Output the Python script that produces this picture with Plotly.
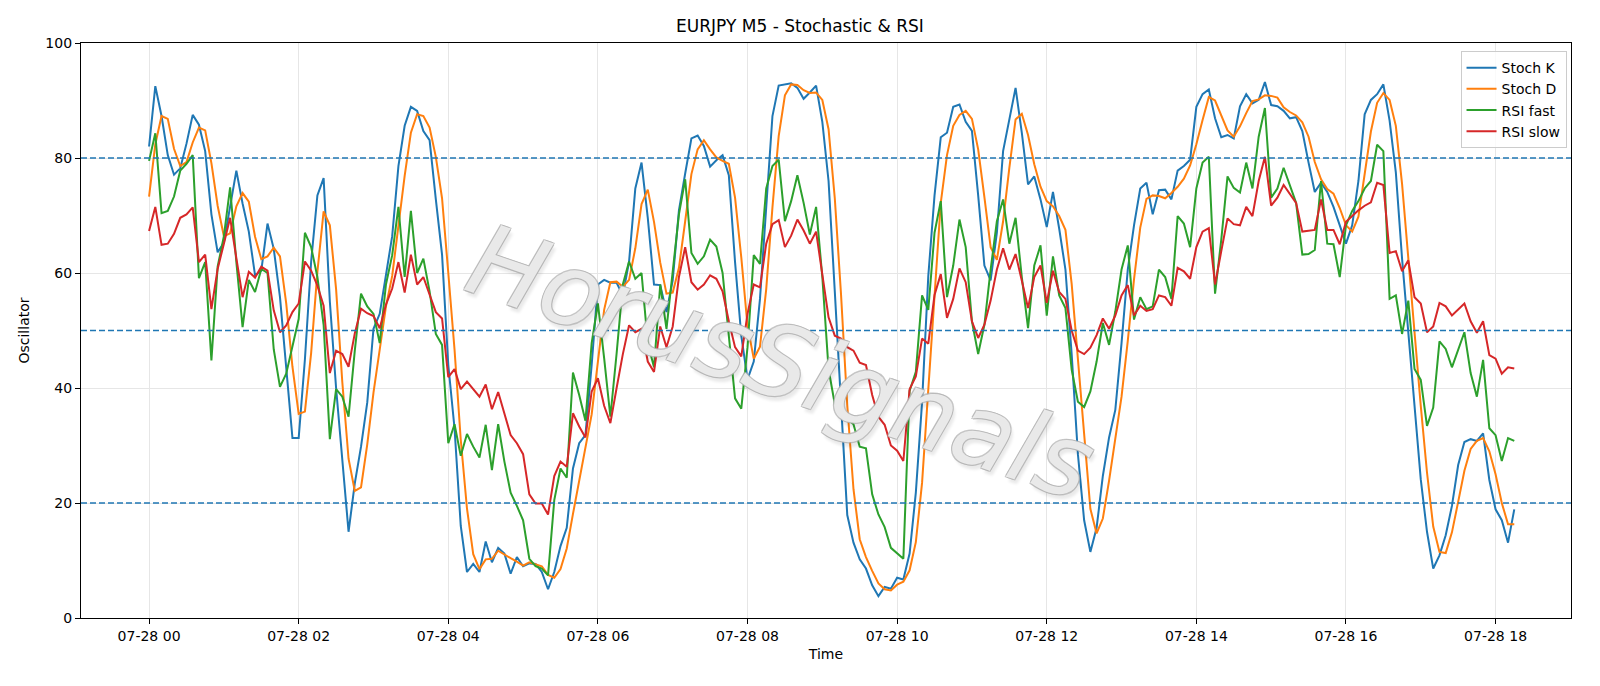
import pandas as pd
import plotly.graph_objects as go

stoch_k = [82.0, 92.5, 87.3, 80.5, 77.1, 78.2, 82.5, 87.5, 85.8, 81.2, 70.2, 63.6, 65.3, 71.8, 77.8, 72.1, 67.2, 59.6, 60.4, 68.6,
           64.2, 55.8, 44.0, 31.3, 31.3, 45.0, 62.0, 73.5, 76.5, 55.0, 40.0, 28.0, 15.0, 23.4, 29.8, 37.5, 50.3, 52.9, 59.3, 66.4,
           78.6, 85.6, 88.9, 88.2, 84.7, 83.1, 72.8, 63.2, 44.0, 33.0, 16.0, 8.0, 9.4, 8.0, 13.3, 9.7, 12.2, 11.2, 7.7, 10.6,
           9.0, 9.5, 9.4, 8.0, 5.0, 8.0, 12.5, 15.7, 26.0, 30.4, 31.8, 44.0, 58.0, 58.8, 58.3, 58.3, 56.1, 62.0, 74.7, 79.2,
           69.6, 58.0, 57.9, 53.2, 58.7, 70.9, 77.3, 83.4, 83.9, 82.1, 78.5, 79.6, 80.5, 77.0, 61.9, 49.1, 41.5, 44.6, 55.5, 71.5,
           87.3, 92.6, 92.8, 93.0, 92.2, 90.3, 91.4, 92.6, 86.3, 76.0, 56.8, 36.2, 17.9, 13.1, 10.2, 8.6, 5.7, 3.8, 5.4, 5.1,
           7.0, 6.7, 11.2, 21.8, 37.5, 59.5, 73.5, 83.6, 84.4, 88.9, 89.3, 86.3, 84.7, 73.5, 61.3, 58.7, 67.0, 81.2, 86.6, 92.2,
           84.4, 75.4, 76.8, 72.8, 68.0, 74.1, 67.7, 60.6, 45.9, 28.5, 17.0, 11.5, 15.7, 24.7, 31.4, 36.2, 47.8, 60.6, 68.3, 74.7,
           75.7, 70.2, 74.4, 74.5, 72.8, 77.8, 78.6, 79.7, 88.9, 91.1, 91.9, 86.9, 83.6, 84.0, 83.4, 89.0, 91.1, 89.5, 90.1, 93.2,
           89.2, 89.0, 88.2, 86.9, 87.1, 84.7, 79.2, 74.1, 75.7, 74.1, 71.5, 68.3, 65.1, 68.3, 76.0, 87.6, 90.1, 91.1, 92.8, 86.5,
           77.5, 62.5, 49.7, 36.9, 24.1, 15.0, 8.6, 10.9, 14.4, 19.5, 26.6, 30.6, 31.1, 30.8, 32.1, 24.0, 18.9, 17.0, 13.1, 18.9]

stoch_d = [73.3, 82.4, 87.3, 86.8, 81.6, 78.6, 79.3, 82.7, 85.3, 84.8, 79.1, 71.7, 66.4, 66.9, 71.6, 73.9, 72.4, 66.3, 62.4, 62.9,
           64.4, 62.9, 54.7, 43.7, 35.5, 35.9, 46.1, 60.2, 70.7, 68.3, 57.2, 41.0, 27.7, 22.1, 22.7, 30.2, 39.2, 46.9, 54.2, 59.5,
           68.1, 76.9, 84.4, 87.6, 87.3, 85.3, 80.2, 73.0, 60.0, 46.7, 31.0, 19.0, 11.1, 8.5, 10.2, 10.3, 11.7, 11.0, 10.4, 9.8,
           9.1, 9.7, 9.3, 9.0, 7.5, 7.0, 8.5, 12.1, 18.1, 24.0, 29.4, 35.4, 44.6, 53.6, 58.4, 58.5, 57.6, 58.8, 64.3, 72.0,
           74.5, 68.9, 61.8, 56.4, 56.6, 60.9, 69.0, 77.2, 81.5, 83.1, 81.5, 80.1, 79.5, 79.0, 73.1, 62.7, 50.8, 45.1, 47.2, 57.2,
           71.4, 83.8, 90.9, 92.8, 92.7, 91.8, 91.3, 91.4, 90.1, 85.0, 73.0, 56.3, 37.0, 22.4, 13.7, 10.6, 8.2, 6.0, 5.0, 4.8,
           5.8, 6.3, 8.3, 13.2, 23.5, 39.6, 56.8, 72.2, 80.5, 85.6, 87.5, 88.2, 86.8, 81.5, 73.2, 64.5, 62.3, 69.0, 78.3, 86.7,
           87.7, 84.0, 78.9, 75.0, 72.5, 71.6, 69.9, 67.5, 58.1, 45.0, 30.5, 19.0, 14.7, 17.3, 23.9, 30.8, 38.5, 48.2, 58.9, 67.9,
           72.9, 73.5, 73.4, 73.0, 73.9, 75.0, 76.4, 78.7, 82.4, 86.6, 90.6, 90.0, 87.5, 84.8, 83.7, 85.5, 87.8, 89.9, 90.2, 90.9,
           90.8, 90.5, 88.8, 88.0, 87.4, 86.2, 83.7, 79.3, 76.3, 74.6, 73.8, 71.3, 68.3, 67.2, 69.8, 77.3, 84.6, 89.6, 91.3, 90.1,
           85.6, 75.5, 63.2, 49.7, 36.9, 25.3, 15.9, 11.5, 11.3, 14.9, 20.2, 25.6, 29.4, 30.8, 31.3, 29.0, 25.0, 20.0, 16.3, 16.3]

rsi_fast = [79.5, 84.3, 70.4, 70.8, 73.3, 77.8, 79.0, 80.5, 59.1, 61.9, 44.8, 61.1, 66.4, 74.9, 61.9, 50.6, 58.8, 56.7, 60.7, 60.0,
            46.7, 40.2, 42.5, 47.5, 52.0, 67.0, 64.5, 59.3, 51.0, 31.1, 39.8, 38.5, 35.0, 46.5, 56.4, 54.2, 52.9, 47.8, 58.0, 63.1,
            71.5, 59.3, 70.8, 60.0, 62.5, 56.8, 49.4, 47.5, 30.4, 33.7, 28.2, 32.0, 29.8, 27.9, 33.6, 25.7, 33.7, 27.2, 21.8, 19.5,
            17.0, 10.3, 9.0, 8.6, 7.4, 20.5, 26.0, 24.4, 42.7, 38.8, 34.3, 47.8, 54.7, 45.2, 35.0, 46.0, 58.0, 62.0, 59.0, 60.0,
            47.8, 43.6, 58.0, 50.3, 60.6, 70.2, 76.3, 63.5, 61.6, 62.9, 65.8, 64.6, 60.0, 49.7, 38.2, 36.4, 47.1, 63.1, 61.6, 74.7,
            78.6, 79.7, 69.0, 72.5, 77.0, 72.2, 66.7, 71.5, 59.3, 43.3, 37.2, 36.9, 34.6, 33.7, 29.8, 29.5, 21.5, 18.0, 15.8, 12.2,
            11.3, 10.3, 39.5, 42.8, 56.1, 53.6, 67.0, 72.5, 55.8, 61.3, 69.3, 64.5, 51.6, 45.9, 51.0, 60.6, 69.0, 72.8, 65.1, 69.6,
            59.3, 50.4, 61.3, 64.8, 52.6, 62.9, 56.1, 53.9, 43.2, 37.6, 36.7, 39.4, 44.6, 51.3, 47.5, 53.3, 60.6, 64.8, 51.9, 55.8,
            53.7, 54.2, 60.6, 59.3, 55.5, 69.9, 68.6, 64.5, 74.7, 79.2, 80.2, 56.4, 65.8, 76.8, 74.8, 74.0, 79.2, 74.7, 83.7, 88.7,
            73.1, 74.7, 78.3, 75.4, 72.2, 63.2, 63.3, 64.0, 76.0, 65.1, 65.0, 59.3, 68.3, 70.8, 72.5, 74.7, 76.0, 82.3, 81.2, 55.5,
            56.1, 49.4, 55.2, 43.3, 41.4, 33.4, 36.6, 48.1, 46.8, 43.6, 46.5, 49.7, 42.6, 38.5, 44.9, 33.0, 31.8, 27.3, 31.3, 30.8]

rsi_slow = [67.3, 71.5, 64.9, 65.1, 66.8, 69.6, 70.2, 71.4, 61.9, 63.2, 53.7, 60.7, 65.1, 69.6, 62.6, 55.8, 60.2, 59.2, 61.1, 60.4,
            53.5, 49.7, 50.9, 53.2, 54.7, 62.0, 60.4, 57.8, 54.3, 42.6, 46.5, 45.9, 43.7, 49.5, 53.8, 53.0, 52.5, 50.4, 54.5, 57.3,
            61.9, 56.6, 63.2, 58.0, 59.3, 56.1, 53.2, 52.1, 41.9, 43.3, 39.8, 41.1, 39.8, 38.5, 40.6, 36.3, 39.3, 35.6, 31.8, 30.4,
            28.5, 21.5, 19.9, 19.9, 18.0, 24.7, 27.2, 26.3, 35.6, 33.3, 31.4, 39.4, 41.7, 36.9, 33.9, 40.0, 45.9, 50.9, 49.7, 50.3,
            44.6, 42.8, 50.7, 47.1, 50.7, 59.3, 64.5, 58.4, 57.1, 58.0, 59.6, 59.0, 56.8, 51.6, 47.1, 45.5, 52.9, 58.0, 57.5, 65.1,
            68.5, 69.2, 64.5, 66.5, 69.3, 67.4, 65.1, 67.2, 60.0, 52.3, 49.1, 48.6, 47.1, 46.5, 44.4, 44.0, 38.8, 35.0, 33.6, 30.0,
            29.1, 27.3, 39.8, 42.0, 48.6, 47.7, 56.2, 59.8, 52.2, 55.5, 60.8, 58.4, 51.6, 48.7, 51.0, 55.2, 60.6, 64.3, 60.6, 63.3,
            58.7, 53.9, 59.3, 61.3, 54.8, 60.4, 56.7, 55.5, 50.0, 46.5, 45.9, 47.0, 49.2, 52.1, 50.3, 52.6, 56.1, 57.9, 52.6, 54.3,
            53.4, 53.7, 56.1, 55.8, 54.3, 60.9, 60.3, 59.0, 64.5, 67.2, 67.8, 58.0, 63.8, 69.5, 68.5, 68.3, 71.5, 69.9, 76.0, 80.2,
            71.7, 73.1, 75.3, 73.8, 72.2, 67.2, 67.4, 67.5, 72.8, 67.5, 67.5, 65.0, 68.9, 69.9, 70.9, 71.7, 72.3, 75.7, 75.3, 63.5,
            63.8, 60.3, 62.2, 55.8, 54.7, 49.7, 50.7, 54.8, 54.2, 52.6, 53.7, 54.7, 51.6, 49.6, 51.6, 45.7, 45.1, 42.5, 43.6, 43.4]

levels = [20, 50, 80]
series_names = ["Stoch K", "Stoch D", "RSI fast", "RSI slow"]
colors = ["#1f77b4", "#ff7f0e", "#2ca02c", "#d62728"]
tick_hours = [0, 2, 4, 6, 8, 10, 12, 14, 16, 18]

start = pd.Timestamp("2025-07-28 00:00")

FONT = "DejaVu Sans"
fig = go.Figure()
for name, vals, col in zip(series_names, [stoch_k, stoch_d, rsi_fast, rsi_slow], colors):
    t = pd.date_range(start, periods=len(vals), freq="5min")
    fig.add_trace(go.Scatter(x=t, y=vals, mode="lines", name=name,
                             line=dict(color=col, width=2)))

for lv in levels:
    fig.add_hline(y=lv, line=dict(color="#1f77b4", width=1.4, dash="6px,3px"), layer="above")

tickvals = [start + pd.Timedelta(hours=h) for h in tick_hours]
ticktext = [tv.strftime("%m-%d %H") for tv in tickvals]

fig.add_annotation(text="HorusSignals", xref="paper", yref="paper", x=0.47, y=0.445,
                   showarrow=False, textangle=19,
                   font=dict(family=FONT, size=100, style="italic",
                             color="rgba(255,255,255,0.72)",
                             shadow="1px 1px 0 #b0b0b0, -1px -1px 0 #b0b0b0, 1px -1px 0 #b0b0b0, -1px 1px 0 #b0b0b0, 4px 4px 3px rgba(0,0,0,0.12)"))

fig.update_layout(
    width=1600, height=686,
    margin=dict(l=81, r=29, t=43, b=68),
    paper_bgcolor="white", plot_bgcolor="white",
    font=dict(family=FONT, size=14, color="black"),
    title=dict(text="EURJPY M5 - Stochastic & RSI", x=0.5, xanchor="center", y=0.962, yanchor="middle",
               font=dict(family=FONT, size=17, color="black")),
    legend=dict(x=0.997, xanchor="right", y=0.986, yanchor="top", bgcolor="rgba(255,255,255,0.8)",
                bordercolor="#cccccc", borderwidth=1, font=dict(family=FONT, size=14)),
    showlegend=True,
)
fig.update_xaxes(range=[start - pd.Timedelta(minutes=54.6), start + pd.Timedelta(hours=19, minutes=0.5)],
                 tickvals=tickvals, ticktext=ticktext, ticks="outside", ticklen=5, tickcolor="black",
                 showgrid=True, gridcolor="#e6e6e6", gridwidth=1,
                 showline=True, linecolor="black", linewidth=1.2, mirror=True, zeroline=False,
                 title=dict(text="Time", standoff=6, font=dict(family=FONT, size=14)),
                 tickfont=dict(family=FONT, size=14))
fig.update_yaxes(range=[0, 100], tickvals=[0, 20, 40, 60, 80, 100], ticks="outside", ticklen=5, tickcolor="black",
                 showgrid=True, gridcolor="#e6e6e6", gridwidth=1,
                 showline=True, linecolor="black", linewidth=1.2, mirror=True, zeroline=False,
                 title=dict(text="Oscillator", standoff=12, font=dict(family=FONT, size=14)),
                 tickfont=dict(family=FONT, size=14))

fig.write_html("out.html")
